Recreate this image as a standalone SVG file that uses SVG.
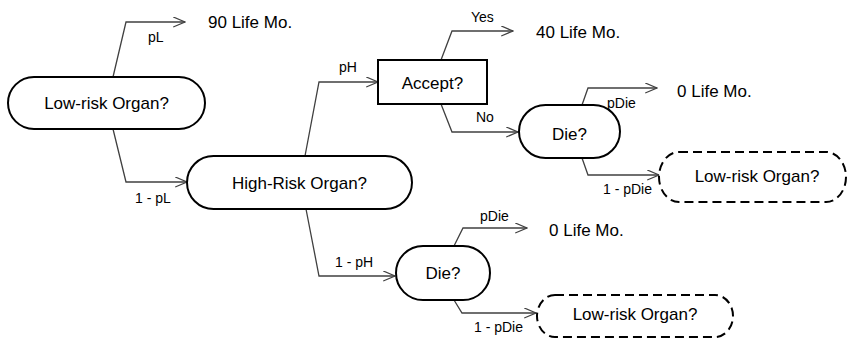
<svg xmlns="http://www.w3.org/2000/svg" width="848" height="338" viewBox="0 0 848 338">
<style>
.node{fill:#fff;stroke:#000;stroke-width:2}
.dash{fill:#fff;stroke:#000;stroke-width:2;stroke-dasharray:9 5}
.conn{fill:none;stroke:#404040;stroke-width:1.3;marker-end:url(#arr)}
.t{font-family:"Liberation Sans",Arial,sans-serif;font-size:17px;fill:#000}
.c{text-anchor:middle}
.lbl{font-family:"Liberation Sans",Arial,sans-serif;font-size:14px;fill:#000}
</style>
<defs>
<marker id="arr" markerUnits="userSpaceOnUse" viewBox="0 0 13 11" refX="12.3" refY="5.5" markerWidth="13" markerHeight="11" orient="auto">
<path d="M0.5,0.5 L12.3,5.5 L0.5,10.5" fill="none" stroke="#404040" stroke-width="1.3"/>
</marker>
</defs>
<rect width="848" height="338" fill="#fff"/>
<g id="connectors">
<path class="conn" d="M113,77 L126,22 L185,22"/>
<path class="conn" d="M113,129 L126,182 L187,182"/>
<path class="conn" d="M305,156 L319,82 L378,82"/>
<path class="conn" d="M306,209 L319,276 L395,276"/>
<path class="conn" d="M441,60 L452,31 L513,31"/>
<path class="conn" d="M441,104 L452,132 L518,132"/>
<path class="conn" d="M582,105 L588,88 L657,88"/>
<path class="conn" d="M582,158 L588,175 L659,175"/>
<path class="conn" d="M454,246 L463,228 L527,228"/>
<path class="conn" d="M454,300 L462,313 L536,313"/>
<text class="lbl" x="148" y="42">pL</text>
<text class="lbl" x="135" y="203">1 - pL</text>
<text class="lbl" x="339" y="72">pH</text>
<text class="lbl" x="335" y="267">1 - pH</text>
<text class="lbl" x="471" y="22">Yes</text>
<text class="lbl" x="476" y="122">No</text>
<text class="lbl" x="607" y="108">pDie</text>
<text class="lbl" x="603" y="194">1 - pDie</text>
<text class="lbl" x="480" y="221">pDie</text>
<text class="lbl" x="474" y="332">1 - pDie</text>
</g>
<g id="low-risk-organ">
<rect class="node" x="8" y="77" width="197" height="52" rx="26"/>
<text class="t c" x="106.5" y="109">Low-risk Organ?</text>
</g>
<g id="outcome-90">
<text class="t" x="208" y="28">90 Life Mo.</text>
</g>
<g id="high-risk-organ">
<rect class="node" x="187" y="156" width="225" height="53" rx="26.5"/>
<text class="t c" x="299.5" y="189">High-Risk Organ?</text>
</g>
<g id="accept">
<rect class="node" x="378" y="60" width="109" height="44"/>
<text class="t c" x="432.5" y="89">Accept?</text>
</g>
<g id="outcome-40">
<text class="t" x="536" y="38">40 Life Mo.</text>
</g>
<g id="die-1">
<rect class="node" x="519" y="105" width="101" height="53" rx="26.5"/>
<text class="t c" x="569.5" y="140">Die?</text>
</g>
<g id="outcome-0a">
<text class="t" x="677" y="97">0 Life Mo.</text>
</g>
<g id="low-risk-organ-2">
<rect class="dash" x="659" y="152" width="187" height="50" rx="20" ry="25"/>
<text class="t c" x="757" y="182">Low-risk Organ?</text>
</g>
<g id="die-2">
<rect class="node" x="396" y="246" width="94" height="54" rx="27"/>
<text class="t c" x="443" y="279">Die?</text>
</g>
<g id="outcome-0b">
<text class="t" x="549" y="236">0 Life Mo.</text>
</g>
<g id="low-risk-organ-3">
<rect class="dash" x="537" y="295" width="196" height="42" rx="18" ry="21"/>
<text class="t c" x="635" y="320">Low-risk Organ?</text>
</g>
</svg>
